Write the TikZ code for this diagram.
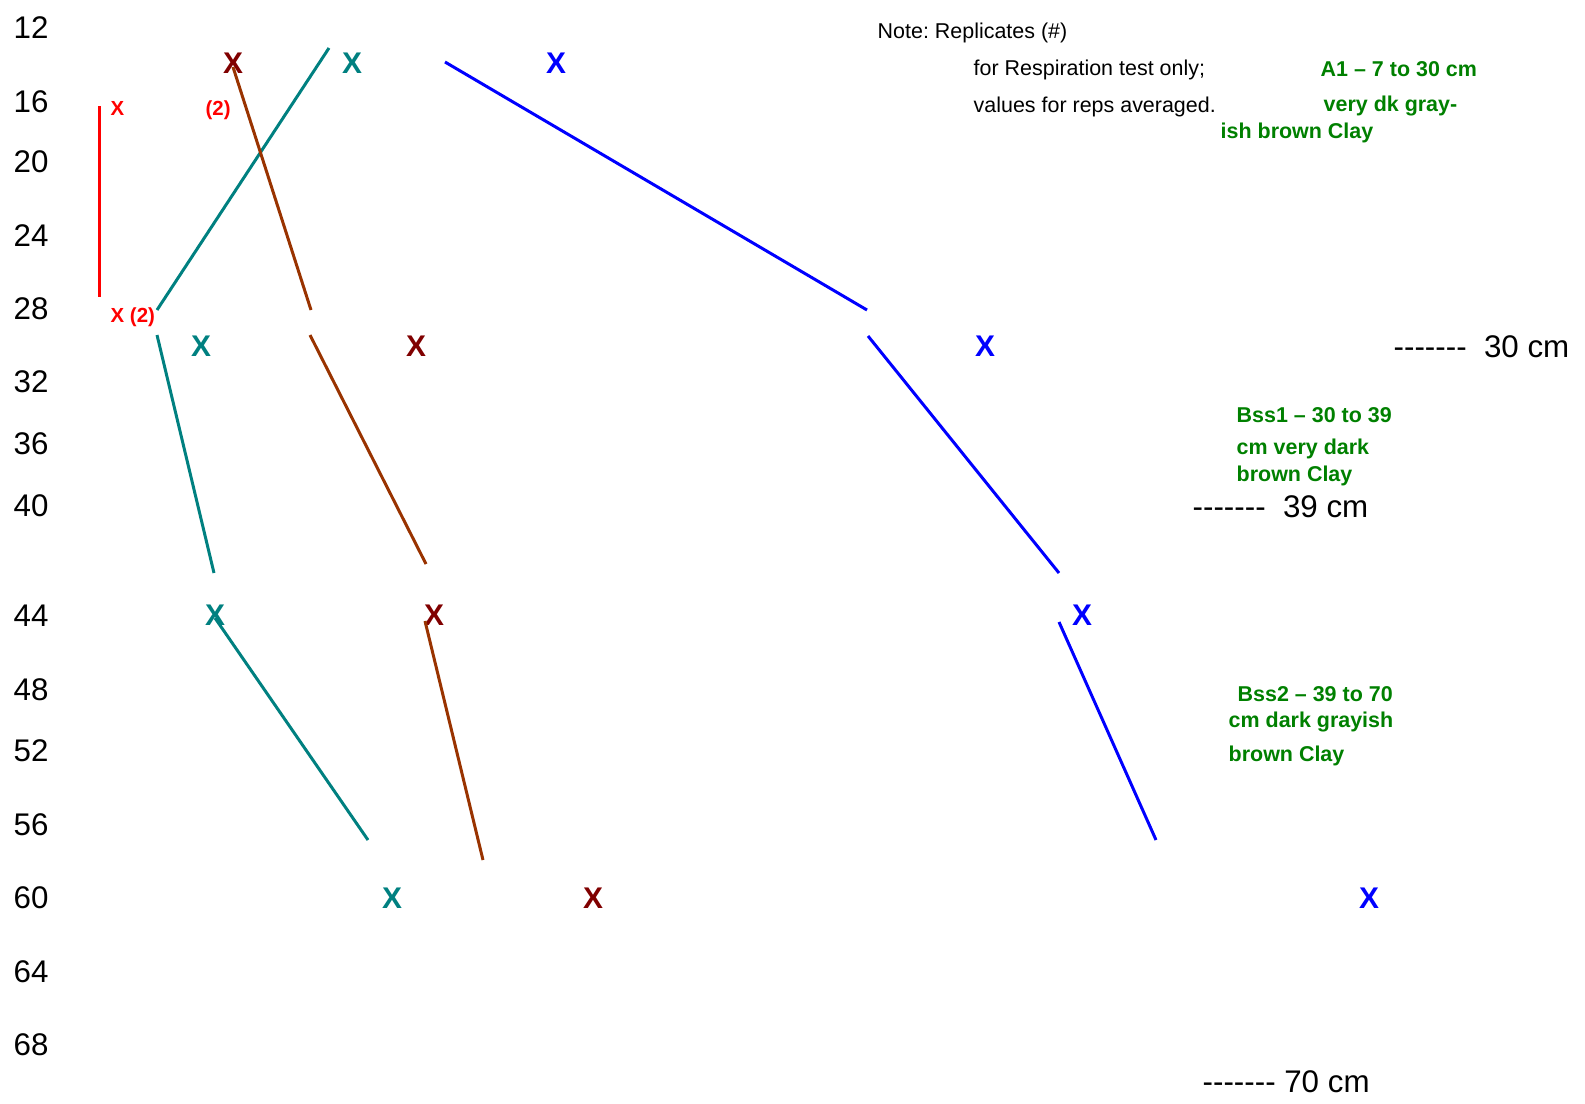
\documentclass[tikz,border=0pt]{standalone}
\usepackage{fontspec}
\setmainfont{Liberation Sans}
\definecolor{maroonx}{RGB}{128,0,0}
\definecolor{tealx}{RGB}{0,128,128}
\definecolor{bluex}{RGB}{0,0,255}
\definecolor{brownx}{RGB}{153,51,0}
\definecolor{redx}{RGB}{255,0,0}
\definecolor{greenx}{RGB}{0,128,0}
\newcommand\hyphens{-\kern0pt-\kern0pt-\kern0pt-\kern0pt-\kern0pt-\kern0pt-}
\frenchspacing
\begin{document}
\begin{tikzpicture}[x=.01cm, y=-.01cm,
  depth/.style={anchor=west, inner sep=0pt, font=\fontsize{8.9}{10}\selectfont},
  xmark/.style={inner sep=0pt, font=\bfseries\fontsize{8.5}{10}\selectfont},
  note/.style={anchor=west, inner sep=0pt, font=\fontsize{6.1}{7}\selectfont},
  horizon/.style={anchor=west, inner sep=0pt, text=greenx, font=\bfseries\fontsize{6.1}{7}\selectfont},
  rep/.style={anchor=west, inner sep=0pt, text=redx, font=\bfseries\fontsize{5.8}{6}\selectfont},
  seg/.style={line width=.85pt}]
\useasboundingbox (0,0) rectangle (1585,1103);
\foreach \d/\y in {12/28,16/102,20/162,24/236,28/309,32/382,36/444,40/506,44/616,48/690,52/751,56/825,60/898,64/972,68/1045}
  \node[depth] (d\d) at (13,\y) {\d};

\node[xmark, text=maroonx] (m1) at (233,63) {X};
\node[xmark, text=tealx] (t1) at (352,63) {X};
\node[xmark, text=bluex] (b1) at (556,63) {X};
\node[xmark, text=tealx] (t2) at (201,346) {X};
\node[xmark, text=maroonx] (m2) at (416,346) {X};
\node[xmark, text=bluex] (b2) at (985,346) {X};
\node[xmark, text=tealx] (t3) at (215,615) {X};
\node[xmark, text=maroonx] (m3) at (434,615) {X};
\node[xmark, text=bluex] (b3) at (1082,615) {X};
\node[xmark, text=tealx] (t4) at (392,898) {X};
\node[xmark, text=maroonx] (m4) at (593,898) {X};
\node[xmark, text=bluex] (b4) at (1369,898) {X};

\path (329,48) coordinate (ta1) (157,310) coordinate (tb1)
      (157,335) coordinate (ta2) (214,573) coordinate (tb2)
      (215,618) coordinate (ta3) (368,840) coordinate (tb3);
\path (233,67) coordinate (ma1) (311,310) coordinate (mb1)
      (310,335) coordinate (ma2) (426,564) coordinate (mb2)
      (425,621) coordinate (ma3) (483,860) coordinate (mb3);
\path (445,62) coordinate (ba1) (867,310) coordinate (bb1)
      (868,336) coordinate (ba2) (1059,573) coordinate (bb2)
      (1059,622) coordinate (ba3) (1156,840) coordinate (bb3);
\path (99.5,106) coordinate (ra) (99.5,297) coordinate (rb);
\draw[seg, tealx] (ta1)--(tb1) (ta2)--(tb2) (ta3)--(tb3);
\draw[seg, brownx] (ma1)--(mb1) (ma2)--(mb2) (ma3)--(mb3);
\draw[seg, bluex] (ba1)--(bb1) (ba2)--(bb2) (ba3)--(bb3);
\draw[seg, redx] (ra)--(rb);

\node[rep] (r1) at (110,108) {X};
\node[rep] (r2) at (205,110) {(2)};
\node[rep] (r3) at (110,317) {X (2)};

\node[note] (n1) at (877,33) {Note: Replicates (\#)};
\node[note] (n2) at (973,70) {for Respiration test only;};
\node[note] (n3) at (973,107) {values for reps averaged.};

\node[horizon] (a1) at (1320,69) {A1 -- 7 to 30 cm};
\node[horizon] (a2) at (1323,106) {very dk gray-};
\node[horizon] (a3) at (1220,133) {ish brown Clay};
\node[horizon] (s1) at (1236,415) {Bss1 -- 30 to 39};
\node[horizon] (s2) at (1236,449) {cm very dark};
\node[horizon] (s3) at (1236,476) {brown Clay};
\node[horizon] (v1) at (1237,694) {Bss2 -- 39 to 70};
\node[horizon] (v2) at (1228,722) {cm dark grayish};
\node[horizon] (v3) at (1228,756) {brown Clay};

\node[depth] (h30) at (1393,347) {\hyphens\ \ 30 cm};
\node[depth] (h39) at (1192,507) {\hyphens\ \ 39 cm};
\node[depth] (h70) at (1202,1082) {\hyphens\ 70 cm};
\end{tikzpicture}
\end{document}
